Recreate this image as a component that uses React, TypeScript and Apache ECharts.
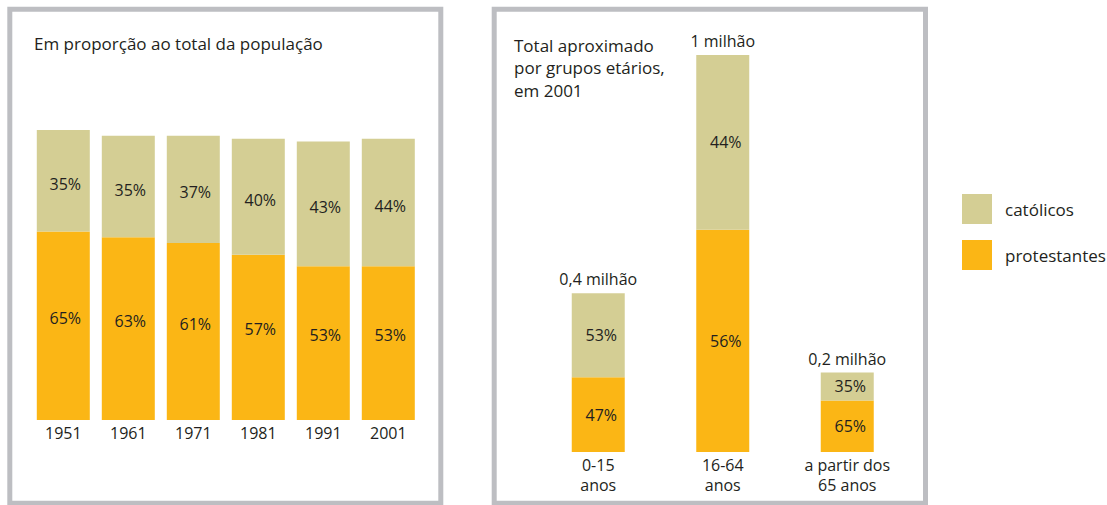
import React, { useEffect, useRef } from "react";
import * as echarts from "echarts";

const years = ["1951", "1961", "1971", "1981", "1991", "2001"];
const protestantsShare = [65, 63, 61, 57, 53, 53];
const catholicsShare = [35, 35, 37, 40, 43, 44];

const ageGroups = ["0-15\nanos", "16-64\nanos", "a partir dos\n65 anos"];
const ageTotals = [0.4, 1, 0.2];
const ageTotalLabels = ["0,4 milhão", "1 milhão", "0,2 milhão"];
const ageProtestantsPct = [47, 56, 65];
const ageCatholicsPct = [53, 44, 35];

const C_CAT = "#d4ce94";
const C_PROT = "#fbb615";
const C_TEXT = "#231f20";
const C_BORDER = "#bdbec2";
const FONT = "'Open Sans', sans-serif";
const FS = 16;

export default function App() {
  const ref = useRef<HTMLDivElement>(null);
  useEffect(() => {
    if (!ref.current) return;
    const chart = echarts.init(ref.current, null, { renderer: "svg" });
    const protAge = ageTotals.map((t, i) => (t * ageProtestantsPct[i]) / 100);
    const catAge = ageTotals.map((t, i) => (t * ageCatholicsPct[i]) / 100);
    const pctLabel = (offset: number[]) => ({
      show: true,
      position: "inside",
      offset,
      color: C_TEXT,
      fontFamily: FONT,
      fontSize: FS,
      formatter: (p: any) => p.value + "%",
    });
    const option: any = {
      animation: false,
      textStyle: { fontFamily: FONT },
      title: [
        {
          text: "Em proporção ao total da população",
          left: 34,
          top: 32,
          padding: 0,
          textStyle: { fontFamily: FONT, fontSize: 17, fontWeight: "normal", color: C_TEXT, lineHeight: 22 },
        },
        {
          text: "Total aproximado\npor grupos etários,\nem 2001",
          left: 514,
          top: 34,
          padding: 0,
          textStyle: { fontFamily: FONT, fontSize: 17, fontWeight: "normal", color: C_TEXT, lineHeight: 22.5 },
        },
      ],
      legend: {
        orient: "vertical",
        left: 962,
        top: 194,
        itemWidth: 30,
        itemHeight: 30,
        itemGap: 16,
        padding: 0,
        icon: "rect",
        data: ["católicos", "protestantes"],
        selectedMode: false,
        textStyle: { fontFamily: FONT, fontSize: 17, color: C_TEXT, padding: [0, 0, 0, 8] },
      },
      graphic: [
        {
          type: "rect",
          shape: { x: 9.8, y: 9.3, width: 431, height: 494 },
          style: { fill: "none", stroke: C_BORDER, lineWidth: 5 },
          silent: true,
        },
        {
          type: "rect",
          shape: { x: 494.2, y: 9.3, width: 431.3, height: 494 },
          style: { fill: "none", stroke: C_BORDER, lineWidth: 5 },
          silent: true,
        },
      ],
      grid: [
        { left: 30.8, top: 130, width: 390, height: 290 },
        { left: 536, top: 55, width: 373.5, height: 397 },
      ],
      xAxis: [
        {
          type: "category",
          gridIndex: 0,
          data: years,
          axisLine: { show: false },
          axisTick: { show: false },
          axisLabel: { margin: 5, color: C_TEXT, fontFamily: FONT, fontSize: FS },
        },
        {
          type: "category",
          gridIndex: 1,
          data: ageGroups,
          axisLine: { show: false },
          axisTick: { show: false },
          axisLabel: { margin: 3, color: C_TEXT, fontFamily: FONT, fontSize: FS, lineHeight: 20 },
        },
      ],
      yAxis: [
        { type: "value", gridIndex: 0, min: 0, max: 100, show: false },
        { type: "value", gridIndex: 1, min: 0, max: 1, show: false },
      ],
      series: [
        {
          name: "protestantes",
          type: "bar",
          stack: "a",
          xAxisIndex: 0,
          yAxisIndex: 0,
          barWidth: 53,
          data: protestantsShare,
          itemStyle: { color: C_PROT },
          label: pctLabel([2, -8]),
        },
        {
          name: "católicos",
          type: "bar",
          stack: "a",
          xAxisIndex: 0,
          yAxisIndex: 0,
          barWidth: 53,
          data: catholicsShare,
          itemStyle: { color: C_CAT },
          label: pctLabel([2, 3]),
        },
        {
          name: "protestantes",
          type: "bar",
          stack: "b",
          xAxisIndex: 1,
          yAxisIndex: 1,
          barWidth: 53,
          data: protAge,
          itemStyle: { color: C_PROT },
          label: { ...pctLabel([3, 0]), formatter: (p: any) => ageProtestantsPct[p.dataIndex] + "%" },
        },
        {
          name: "católicos",
          type: "bar",
          stack: "b",
          xAxisIndex: 1,
          yAxisIndex: 1,
          barWidth: 53,
          data: catAge,
          itemStyle: { color: C_CAT },
          label: { ...pctLabel([3, 0]), formatter: (p: any) => ageCatholicsPct[p.dataIndex] + "%" },
        },
        {
          name: "total",
          type: "bar",
          stack: "b",
          xAxisIndex: 1,
          yAxisIndex: 1,
          barWidth: 53,
          data: ageTotals.map(() => 0),
          itemStyle: { color: "transparent" },
          label: {
            show: true,
            position: "top",
            distance: 6,
            color: C_TEXT,
            fontFamily: FONT,
            fontSize: FS,
            formatter: (p: any) => ageTotalLabels[p.dataIndex],
          },
        },
      ],
    };
    chart.setOption(option);
    return () => chart.dispose();
  }, []);
  return (
    <div
      ref={ref}
      style={{ position: "fixed", left: 0, top: 0, width: 1107, height: 505, background: "#fff" }}
    />
  );
}
